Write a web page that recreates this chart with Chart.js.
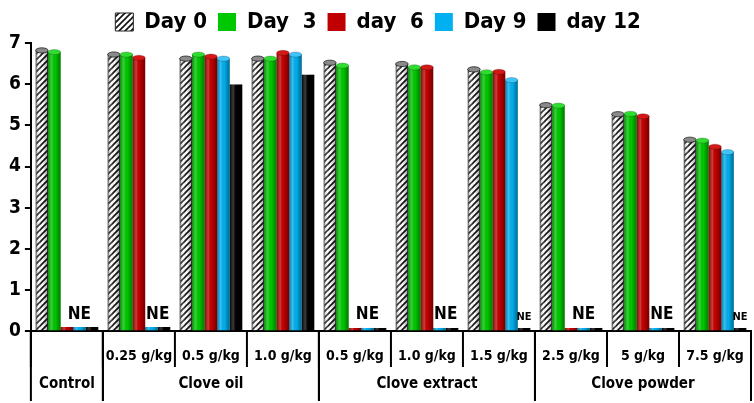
<!DOCTYPE html>
<html>
<head>
<meta charset="utf-8">
<script src="https://cdn.jsdelivr.net/npm/chart.js@4.4.1/dist/chart.umd.min.js"></script>
<style>
  html, body { margin: 0; padding: 0; background: #fff; }
</style>
</head>
<body>
<canvas id="chart" width="754" height="403"></canvas>
<script>
// dose tick labels (first category is the control, labelled only in the group row)
const doseLabels = ['', '0.25 g/kg', '0.5 g/kg', '1.0 g/kg', '0.5 g/kg', '1.0 g/kg', '1.5 g/kg', '2.5 g/kg', '5 g/kg', '7.5 g/kg'];
const groupNames = ['Control', 'Clove oil', 'Clove extract', 'Clove powder'];
const groupSizes = [1, 3, 3, 3];

const seriesNames = ['Day 0', 'Day  3', 'day  6', 'Day 9', 'day 12'];
const day0 = [6.82, 6.72, 6.62, 6.62, 6.52, 6.49, 6.36, 5.49, 5.27, 4.65];
const day3 = [6.78, 6.72, 6.72, 6.62, 6.45, 6.41, 6.29, 5.48, 5.28, 4.63];
const day6 = [0.1, 6.64, 6.67, 6.76, 0.08, 6.41, 6.30, 0.08, 5.22, 4.48];
const day9 = [0.1, 0.1, 6.62, 6.72, 0.08, 0.08, 6.10, 0.08, 0.08, 4.35];
const day12 = [0.1, 0.1, 5.99, 6.23, 0.08, 0.08, 0.08, 0.08, 0.08, 0.08];

const FONT = "'DejaVu Sans Condensed', 'Liberation Sans Narrow', sans-serif";
const colors = ['#ffffff', '#00c800', '#c00000', '#00b0f0', '#000000'];
const topColors = ['#8a8a8a', '#30dc30', '#d41818', '#40c4f8', null];

function hatch() {
  const c = document.createElement('canvas');
  c.width = 6; c.height = 6;
  const g = c.getContext('2d');
  g.fillStyle = '#fff';
  g.fillRect(0, 0, 6, 6);
  g.strokeStyle = '#111';
  g.lineWidth = 1.6;
  g.beginPath();
  g.moveTo(-1, 7); g.lineTo(7, -1);
  g.moveTo(-4, 4); g.lineTo(4, -4);
  g.moveTo(2, 10); g.lineTo(10, 2);
  g.stroke();
  return g.createPattern(c, 'repeat');
}

const ctx = document.getElementById('chart').getContext('2d');
const pattern = hatch();
const values = [day0, day3, day6, day9, day12];

// cylinder shading, ellipse tops, NE marks, separators and group row
const decor = {
  id: 'decor',
  afterDatasetsDraw(chart) {
    const c = chart.ctx;
    c.save();
    chart.data.datasets.forEach((ds, i) => {
      const meta = chart.getDatasetMeta(i);
      meta.data.forEach(bar => {
        const p = bar.getProps(['x', 'y', 'base', 'width'], true);
        const left = p.x - p.width / 2;
        const h = p.base - p.y;
        const g = c.createLinearGradient(left, 0, left + p.width, 0);
        g.addColorStop(0, 'rgba(0,0,0,0.35)');
        g.addColorStop(0.3, 'rgba(255,255,255,0.22)');
        g.addColorStop(0.55, 'rgba(0,0,0,0)');
        g.addColorStop(1, 'rgba(0,0,0,0.4)');
        c.fillStyle = g;
        c.fillRect(left, p.y, p.width, h);
        if (h > 8 && topColors[i]) {
          c.beginPath();
          c.ellipse(p.x, p.y, p.width / 2, 2.6, 0, 0, Math.PI * 2);
          c.fillStyle = topColors[i];
          c.fill();
          c.lineWidth = 0.8;
          c.strokeStyle = i === 0 ? '#222' : 'rgba(0,0,0,0.25)';
          c.stroke();
        }
      });
    });

    // NE over bars with no measurement
    const yScale = chart.scales.y;
    doseLabels.forEach((_, k) => {
      const xs = [];
      values.forEach((arr, i) => {
        if (arr[k] < 0.5) xs.push(chart.getDatasetMeta(i).data[k].x);
      });
      if (!xs.length) return;
      const cx = xs.reduce((a, b) => a + b, 0) / xs.length;
      const big = xs.length > 1;
      c.font = 'bold ' + (big ? 17 : 11) + 'px ' + FONT;
      c.fillStyle = '#000';
      c.textAlign = 'center';
      c.textBaseline = 'bottom';
      c.fillText('NE', cx, yScale.getPixelForValue(0) - (big ? 8 : 9));
    });
    c.restore();
  },
  afterDraw(chart) {
    const c = chart.ctx;
    const x = chart.scales.x;
    const bottom = chart.chartArea.bottom;
    const step = x.getPixelForValue(1) - x.getPixelForValue(0);
    const edge = i => x.getPixelForValue(i) - step / 2;
    c.save();
    c.strokeStyle = '#000';
    c.lineWidth = 2;
    c.fillStyle = '#000';
    // short separators between every dose
    for (let i = 0; i <= doseLabels.length; i++) {
      c.beginPath();
      c.moveTo(edge(i), bottom);
      c.lineTo(edge(i), 367);
      c.stroke();
    }
    c.font = 'bold 15px ' + FONT;
    c.textAlign = 'center';
    c.textBaseline = 'middle';
    let start = 0;
    groupSizes.forEach((n, gi) => {
      const x0 = edge(start), x1 = edge(start + n);
      c.beginPath();
      c.moveTo(x0, bottom); c.lineTo(x0, 401);
      c.moveTo(x1, bottom); c.lineTo(x1, 401);
      c.stroke();
      c.fillText(groupNames[gi], (x0 + x1) / 2, 384);
      start += n;
    });
    c.restore();
  }
};

new Chart(ctx, {
  type: 'bar',
  data: {
    labels: doseLabels,
    datasets: seriesNames.map((name, i) => ({
      label: name,
      data: values[i],
      backgroundColor: i === 0 ? pattern : colors[i],
      borderColor: '#222',
      borderWidth: i === 0 ? 1 : 0,
      categoryPercentage: 0.87,
      barPercentage: 1.0
    }))
  },
  options: {
    responsive: false,
    animation: false,
    devicePixelRatio: 1,
    layout: { padding: { left: 5, right: 3, top: 0, bottom: 38 } },
    plugins: {
      legend: {
        position: 'top',
        labels: {
          color: '#000',
          font: { family: FONT, size: 22, weight: 'bold' },
          boxWidth: 18,
          boxHeight: 18,
          padding: 11
        }
      },
      tooltip: { enabled: false }
    },
    scales: {
      x: {
        grid: {
          drawOnChartArea: false,
          drawTicks: true,
          tickLength: 17,
          color: 'rgba(0,0,0,0)'
        },
        border: { color: '#000', width: 2 },
        ticks: {
          color: '#000',
          font: { family: FONT, size: 14, weight: 'bold' },
          padding: 0,
          maxRotation: 0,
          autoSkip: false
        }
      },
      y: {
        min: 0,
        max: 7,
        ticks: {
          stepSize: 1,
          color: '#000',
          font: { family: FONT, size: 19, weight: 'bold' },
          padding: 4
        },
        grid: {
          drawOnChartArea: false,
          color: '#000',
          lineWidth: 2,
          tickLength: 6
        },
        border: { color: '#000', width: 2 }
      }
    }
  },
  plugins: [decor]
});
</script>
</body>
</html>
